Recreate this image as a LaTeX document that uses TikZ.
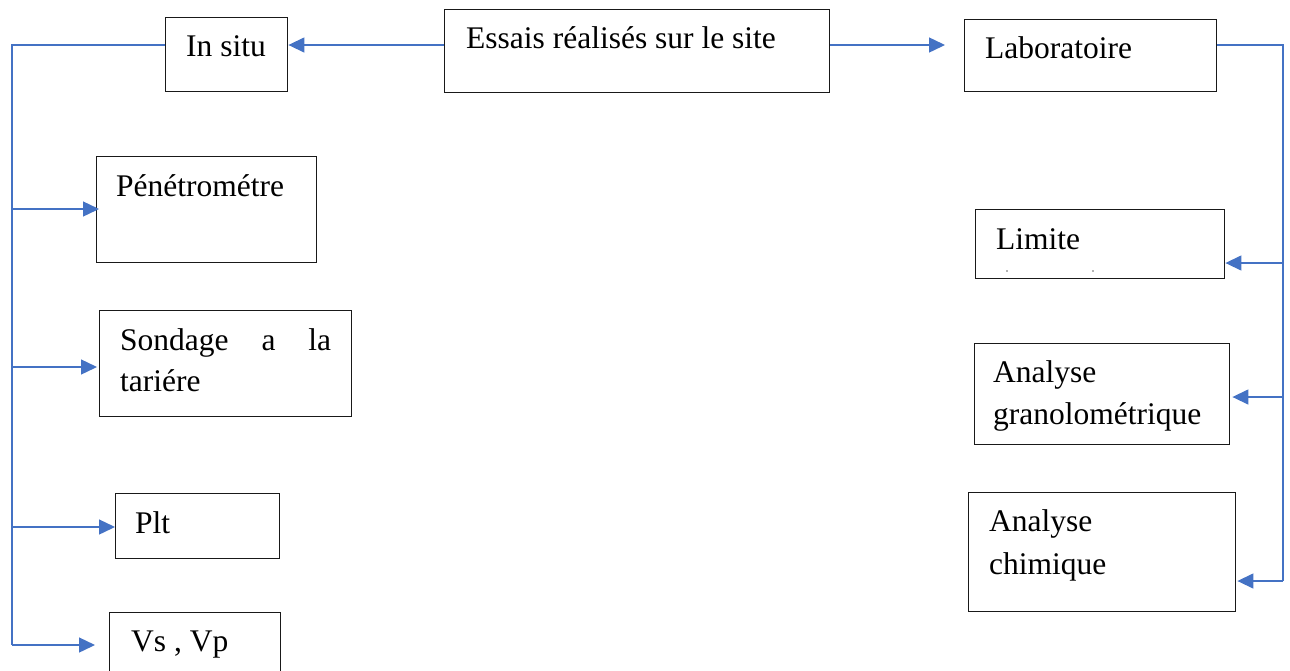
\documentclass[tikz,border=0pt]{standalone}
\usepackage{fontspec}
\setmainfont{Liberation Serif}
\usetikzlibrary{arrows.meta}
\definecolor{conblue}{HTML}{4472C4}
\tikzset{
  box/.style={draw=black!90, line width=1.4pt, inner sep=0pt, anchor=north west},
  lbl/.style={anchor=base west, inner sep=0pt, font=\fontsize{31.5}{42}\selectfont},
  conn/.style={draw=conblue, line width=1.4pt, -{Triangle[length=16pt,width=15pt]}},
  bus/.style={draw=conblue, line width=1.4pt},
}
\begin{document}
\begin{tikzpicture}[x=1pt,y=-1pt]
\useasboundingbox (0,0) rectangle (1290,670);
\clip (0,0) rectangle (1290,670);
% boxes
\node[box, minimum width=385pt, minimum height=83pt] (essais) at (444,9) {};
\node[box, minimum width=122pt, minimum height=74pt] (insitu) at (165,17) {};
\node[box, minimum width=252pt, minimum height=72pt] (labo) at (964,19) {};
\node[box, minimum width=220pt, minimum height=106pt] (pene) at (96,156) {};
\node[box, minimum width=252pt, minimum height=106pt] (sond) at (99,310) {};
\node[box, minimum width=164pt, minimum height=65pt] (plt) at (115,493) {};
\node[box, minimum width=171pt, minimum height=80pt] (vs) at (109,612) {};
\node[box, minimum width=249pt, minimum height=69pt] (limite) at (975,209) {};
\node[box, minimum width=255pt, minimum height=101pt] (gran) at (974,343) {};
\node[box, minimum width=267pt, minimum height=119pt] (chim) at (968,492) {};
% texts
\node[lbl] (tessais) at (466,48) {Essais réalisés sur le site};
\node[lbl] (tinsitu) at (186,56) {In situ};
\node[lbl] (tlabo) at (985,58) {Laboratoire};
\node[lbl] (tpene) at (116,196) {Pénétrométre};
\node[lbl] (tsondA) at (120,350) {\makebox[211pt][s]{Sondage a la}};
\node[lbl] (tsondB) at (120,391) {tariére};
\node[lbl] (tplt) at (135,533) {Plt};
\node[lbl] (tvs) at (131,651) {Vs , Vp};
\node[lbl] (tlimite) at (996,249) {Limite};
\node[lbl] (tgranA) at (993,382) {Analyse};
\node[lbl] (tgranB) at (993,424) {granolométrique};
\node[lbl] (tchimA) at (989,531) {Analyse};
\node[lbl] (tchimB) at (989,574) {chimique};
% tiny specks in Limite box
\fill[black!60] (1007,271) circle (0.8pt);
\fill[black!60] (1093,271) circle (0.8pt);
% top connectors
\coordinate (ytop) at (0,45);
\draw[conn] (essais.west |- ytop) -- (insitu.east |- ytop);
\draw[conn, shorten >=19pt] (essais.east |- ytop) -- (labo.west |- ytop);
% left bus
\coordinate (lbus) at (12,45);
\coordinate (lend) at (12,645);
\draw[bus] (insitu.west |- ytop) -- (lbus) -- (lend);
\draw[conn, shorten >=-3pt] (lbus |- 0,209) -- (pene.west |- 0,209);
\draw[conn, shorten >=2pt] (lbus |- 0,367) -- (sond.west |- 0,367);
\draw[conn] (lbus |- 0,527) -- (plt.west |- 0,527);
\draw[conn, shorten >=14pt] (lend) -- (vs.west |- lend);
% right bus
\coordinate (rbus) at (1283,45);
\coordinate (rend) at (1283,581);
\draw[bus] (labo.east |- ytop) -- (rbus) -- (rend);
\draw[conn] (rbus |- 0,263) -- (limite.east |- 0,263);
\draw[conn, shorten >=2pt] (rbus |- 0,397) -- (gran.east |- 0,397);
\draw[conn, shorten >=1pt] (rend) -- (chim.east |- rend);
\end{tikzpicture}
\end{document}
